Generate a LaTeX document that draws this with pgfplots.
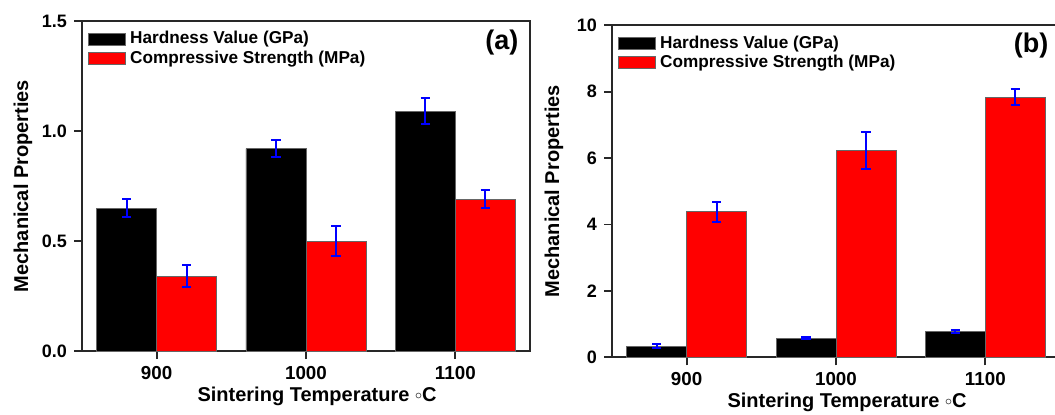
\documentclass[border=0pt]{standalone}
\usepackage{pgfplots}
\pgfplotsset{compat=1.18}
\usepackage{fontspec}
\setmainfont{Liberation Sans}

\definecolor{barred}{RGB}{255,0,0}
\definecolor{axisgray}{RGB}{40,40,40}

\tikzset{tag/.style={anchor=east, inner sep=0pt, font=\bfseries\fontsize{13.5}{15}\selectfont}}

\pgfplotsset{
  panel/.style={
    scale only axis,
    width=224pt,
    xmin=-0.5, xmax=2.5,
    ymin=0,
    ybar=0pt,
    bar width=30pt,
    xtick={0,1,2},
    xticklabels={900,1000,1100},
    tick align=outside,
    xtick pos=bottom,
    ytick pos=left,
    major tick length=4pt,
    axis line style={line width=0.9pt, axisgray},
    tick style={line width=0.9pt, axisgray},
    /pgf/number format/assume math mode=true,
    x tick label style={font=\bfseries\fontsize{9.4}{10}\selectfont},
    y tick label style={font=\bfseries\fontsize{9}{10}\selectfont},
    xlabel={Sintering Temperature \raisebox{0.2ex}{\scalebox{0.7}{$\circ$}}C},
    ylabel={Mechanical Properties},
    label style={font=\bfseries\fontsize{10}{12}\selectfont},
    xlabel style={yshift=3pt, xshift=5.5pt},
    legend style={at={(0,1)}, anchor=north west, xshift=2pt, draw=none, fill=none,
      font=\bfseries\fontsize{8.6}{9}\selectfont, row sep=-2pt,
      inner xsep=1pt, inner ysep=3pt},
    legend cell align=left,
    legend image code/.code={\draw[#1] (0pt,-3pt) rectangle (18.5pt,3pt);},
  },
  hbar/.style={fill=black, draw=black!60, line width=0.4pt},
  cbar/.style={fill=barred, draw=black!60, line width=0.4pt},
  eb/.style={error bars/.cd, y dir=both, y explicit,
    error bar style={blue, line width=1pt},
    error mark options={rotate=90, mark size=2.3pt, blue, line width=1pt}},
}

\begin{document}
\begin{tikzpicture}

% panel (a)
\begin{axis}[panel, at={(41pt,31.5pt)}, anchor=south west,
    height=165pt, ymax=1.5, ytick={0,0.5,1.0,1.5},
    yticklabel style={/pgf/number format/.cd, fixed, fixed zerofill, precision=1},
    ylabel style={yshift=-2pt}]
  \addplot[hbar, eb]
    coordinates {(0,0.65) +- (0,0.04) (1,0.92) +- (0,0.04) (2,1.09) +- (0,0.06)};
  \addplot[cbar, eb]
    coordinates {(0,0.34) +- (0,0.05) (1,0.50) +- (0,0.07) (2,0.69) +- (0,0.04)};
  \legend{Hardness Value (GPa), Compressive Strength (MPa)}
  \node[tag] at (rel axis cs:0.975,0.936) {(a)};
\end{axis}

% panel (b)
\begin{axis}[panel, at={(306pt,28.35pt)}, anchor=south west,
    height=166pt, ymax=10, ytick={0,2,4,6,8,10}]
  \addplot[hbar, eb]
    coordinates {(0,0.34) +- (0,0.05) (1,0.57) +- (0,0.03) (2,0.77) +- (0,0.04)};
  \addplot[cbar, eb]
    coordinates {(0,4.38) +- (0,0.31) (1,6.23) +- (0,0.56) (2,7.84) +- (0,0.25)};
  \legend{Hardness Value (GPa), Compressive Strength (MPa)}
  \node[tag] at (rel axis cs:0.975,0.94) {(b)};
\end{axis}

\pgfresetboundingbox
\useasboundingbox (0,0) rectangle (527.5pt,207pt);
\end{tikzpicture}
\end{document}
